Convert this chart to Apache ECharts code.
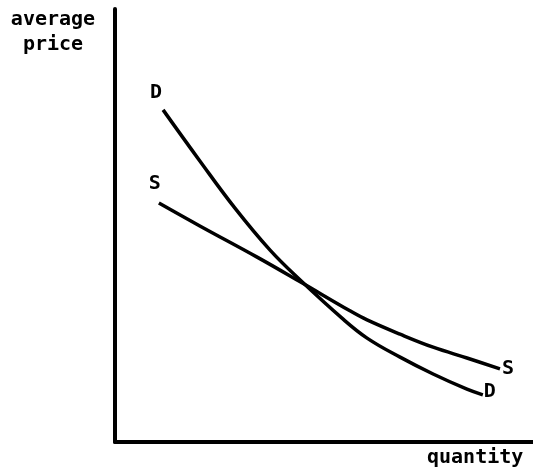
<!DOCTYPE html>
<html>
<head>
<meta charset="utf-8">
<script src="https://cdn.jsdelivr.net/npm/echarts@6/dist/echarts.min.js"></script>
<style>html,body{margin:0;padding:0;background:#fff}#c{width:533px;height:474px}</style>
</head>
<body>
<div id="c"></div>
<script>
// Demand curve D (quantity, average price), arbitrary units 0-100
const demandX = [11.5, 20.3, 28.7, 37.1, 44.3, 54.3, 60.3, 68.2, 76.1, 84.2, 88.0];
const demandY = [76.7, 64.9, 54.0, 44.3, 37.4, 28.6, 24.0, 19.6, 15.7, 12.2, 10.9];
// Supply curve S
const supplyX = [10.5, 20.3, 34.0, 44.3, 56.2, 60.3, 68.2, 76.1, 84.2, 92.1];
const supplyY = [55.2, 49.9, 42.7, 37.0, 30.3, 28.2, 24.9, 21.9, 19.4, 16.9];
const curveNames = ['D', 'S'];
const axisNames = ['average\nprice', 'quantity'];

const FONT = '"DejaVu Sans Mono", monospace';
const lblStyle = {show: true, color: '#000', fontFamily: FONT, fontWeight: 'bold', fontSize: 20};

function build(xs, ys, name, startLbl, endLbl) {
  return xs.map((x, i) => {
    const item = {value: [x, ys[i]]};
    if (i === 0) item.label = Object.assign({formatter: name}, lblStyle, startLbl);
    else if (i === xs.length - 1) item.label = Object.assign({formatter: name}, lblStyle, endLbl);
    else item.label = {show: false};
    return item;
  });
}

const chart = echarts.init(document.getElementById('c'), null, {renderer: 'canvas'});
chart.setOption({
  animation: false,
  backgroundColor: '#fff',
  grid: {left: 115, right: 0, top: 9, bottom: 32, containLabel: false},
  xAxis: {type: 'value', min: 0, max: 100, axisLine: {show: true, onZero: false, lineStyle: {color: '#000', width: 4}},
    axisTick: {show: false}, axisLabel: {show: false}, splitLine: {show: false}},
  yAxis: {type: 'value', min: 0, max: 100, axisLine: {show: true, onZero: false, lineStyle: {color: '#000', width: 4}},
    axisTick: {show: false}, axisLabel: {show: false}, splitLine: {show: false}},
  graphic: [
    {type: 'text', left: 8, top: 7, style: {text: axisNames[0], font: 'bold 20px ' + FONT, fill: '#000', textAlign: 'center', lineHeight: 25, width: 90}},
    {type: 'text', left: 427, top: 448, style: {text: axisNames[1], font: 'bold 20px ' + FONT, fill: '#000'}}
  ],
  series: [
    {type: 'line', name: curveNames[0], smooth: 0.4, showSymbol: true, symbol: 'circle', symbolSize: 0,
      lineStyle: {color: '#000', width: 3.5}, itemStyle: {color: '#000'},
      label: {show: false},
      data: build(demandX, demandY, curveNames[0], {position: 'top', distance: 4, offset: [-7, -3]}, {position: 'right', distance: 1, offset: [0, -3]})},
    {type: 'line', name: curveNames[1], smooth: 0.4, showSymbol: true, symbol: 'circle', symbolSize: 0,
      lineStyle: {color: '#000', width: 3.5}, itemStyle: {color: '#000'},
      label: {show: false},
      data: build(supplyX, supplyY, curveNames[1], {position: 'top', distance: 4, offset: [-4, -5]}, {position: 'right', distance: 2, offset: [0, 0]})}
  ]
});
</script>
</body>
</html>
